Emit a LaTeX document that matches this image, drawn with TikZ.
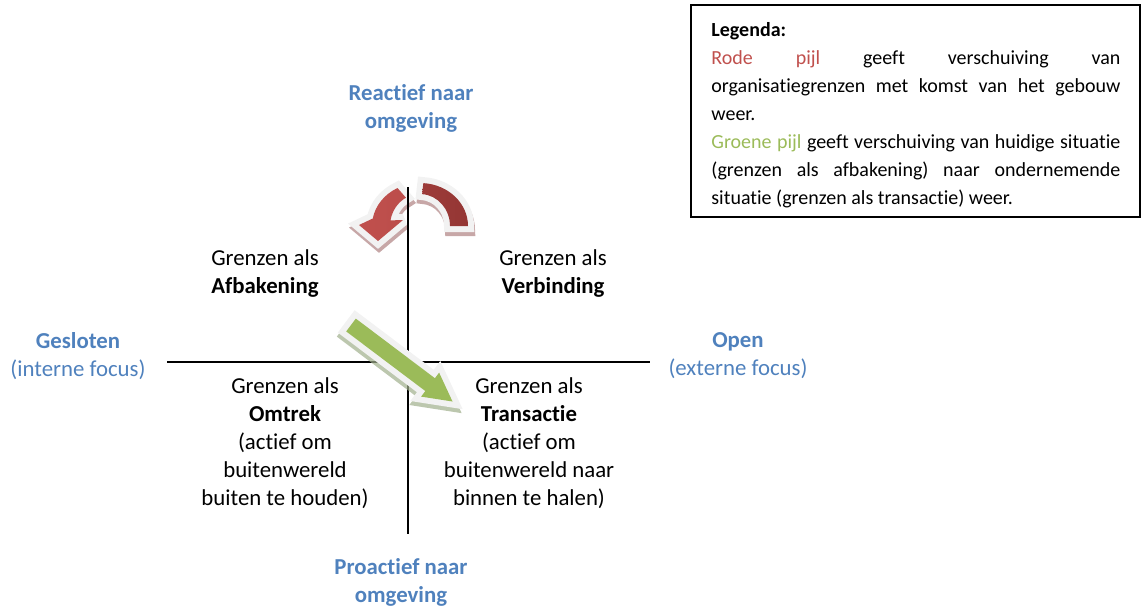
\documentclass[tikz,border=0pt]{standalone}
\usepackage{fontspec}
\setmainfont{Carlito}[Ligatures=NoCommon]
\usetikzlibrary{calc}
\hyphenpenalty=10000
\exhyphenpenalty=10000
\definecolor{titleblue}{RGB}{79,129,189}
\definecolor{arrowred}{RGB}{192,80,77}
\definecolor{darkred}{RGB}{148,54,52}
\definecolor{arrowgreen}{RGB}{155,187,89}
\definecolor{rimgray}{RGB}{242,242,242}
\definecolor{shadowred}{RGB}{175,130,130}
\definecolor{shadowgreen}{RGB}{160,175,140}
\newcommand{\bodysize}{\fontsize{11.4}{14}\selectfont}
\tikzstyle{axis}=[draw,line width=1pt]
\tikzstyle{dimension}=[align=center,inner sep=0pt,anchor=north,text=titleblue]
\tikzstyle{bold dimension}=[dimension,font=\bodysize\bfseries]
\tikzstyle{quadrant}=[align=center,inner sep=0pt,anchor=north]
\tikzstyle{legendtext}=[anchor=north west,inner sep=0pt,text width=204.5pt,align=justify,font=\fontsize{10}{14}\selectfont]
\tikzstyle{frame}=[draw,line width=0.75pt]
\tikzstyle{rim}=[draw=rimgray,line width=6pt,line join=miter,miter limit=3]
\tikzstyle{redshadow}=[fill=shadowred,draw=shadowred,line width=6pt,line join=miter,miter limit=3,opacity=.7,shift={(1,4)}]
\tikzstyle{greenshadow}=[fill=shadowgreen,draw=shadowgreen,line width=6pt,line join=miter,miter limit=3,opacity=.7,shift={(-1,4)}]
% arrow outlines (pixel coordinates)
\newcommand{\rodeboog}{(468,226) arc[start angle=0,end angle=-86,x radius=48,y radius=43]
  -- (422.1,194.1) arc[start angle=-86,end angle=0,x radius=30,y radius=32] -- cycle}
\newcommand{\rodekop}{(397.5,188) arc[start angle=-118,end angle=-170,x radius=48,y radius=43]
  -- (359,225) -- (378,241) -- (403,220) -- (390.5,220.4)
  arc[start angle=-170,end angle=-118,x radius=30,y radius=32] -- cycle}
\newcommand{\groenepijl}{(355.8,318.6) -- (434.9,378.2) -- (439.1,372.6) -- (452.5,401.5)
  -- (421.1,396.6) -- (425.3,391.0) -- (346.2,331.4) -- cycle}

\begin{document}
\begin{tikzpicture}[x=0.5pt,y=-0.5pt,font=\bodysize]
    \useasboundingbox (0,0) rectangle (1144,606);

    % red arrow: shift of the borders
    \path[redshadow] \rodeboog;
    \path[rim] \rodeboog;
    \shade[left color=darkred!80!arrowred,right color=darkred] \rodeboog;
    \path[redshadow] \rodekop;
    \path[rim] \rodekop;
    \shade[left color=arrowred,right color=arrowred!90!darkred] \rodekop;

    % the two axes
    \coordinate (west) at (167,362);
    \coordinate (east) at (650,362);
    \coordinate (top) at (408,187);
    \coordinate (bottom) at (408,534);
    \path[axis] (west) -- (east);
    \path[axis] (top) -- (bottom);

    % green arrow: from afbakening to transactie
    \path[greenshadow] \groenepijl;
    \path[rim] \groenepijl;
    \fill[arrowgreen] \groenepijl;

    % axis labels
    \node[bold dimension] (reactief) at (411,84) {Reactief naar\\omgeving};
    \node[bold dimension] (proactief) at (401,558) {Proactief naar\\omgeving};
    \node[dimension] (gesloten) at (78,332) {\textbf{Gesloten}\\(interne focus)};
    \node[dimension] (open) at (738,332) {\textbf{Open}\\(externe focus)};

    % quadrants
    \node[quadrant] (afbakening) at (265,249) {Grenzen als\\\textbf{Afbakening}};
    \node[quadrant] (verbinding) at (553,249) {Grenzen als\\\textbf{Verbinding}};
    \node[quadrant] (omtrek) at (285,377) {Grenzen als\\\textbf{Omtrek}\\(actief om\\buitenwereld\\buiten te houden)};
    \node[quadrant] (transactie) at (529,377) {Grenzen als\\\textbf{Transactie}\\(actief om\\buitenwereld naar\\binnen te halen)};

    % legend
    \draw[frame] (691,5) rectangle (1140,217);
    \node[legendtext] (legenda) at (711,22) {\tolerance=10000
        \textbf{Legenda:}\\
        \textcolor{arrowred}{Rode pijl} geeft verschuiving van\linebreak
        organisatiegrenzen met komst van het gebouw\linebreak weer.\\
        \textcolor{arrowgreen}{Groene pijl} geeft verschuiving van huidige situatie\linebreak
        (grenzen als afbakening) naar ondernemende\linebreak
        situatie (grenzen als transactie) weer.};
\end{tikzpicture}
\end{document}
